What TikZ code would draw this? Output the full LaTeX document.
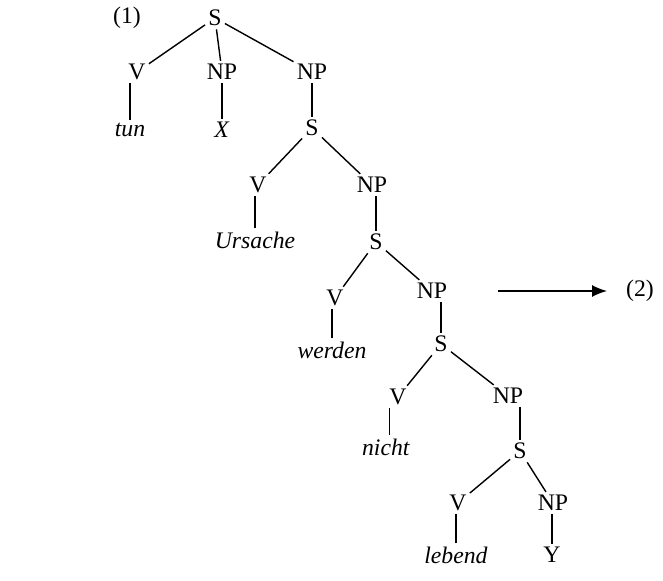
\documentclass[tikz,border=0pt]{standalone}
\usepackage{fontspec}
\setmainfont{Liberation Serif}
\usepackage{tikz}
\usetikzlibrary{arrows.meta}

\begin{document}
\begin{tikzpicture}[x=0.02cm,y=-0.02cm,line width=0.8pt,
  every node/.style={font=\fontsize{13.5}{16}\selectfont,inner sep=1.5pt}]
\useasboundingbox (0,0) rectangle (663,581);

\draw(127,18) node (one) {(1)};
\draw(215,18) node (s0) {S};
\draw(137,72) node (v1) {V};
\draw(222,72) node (np1) {NP};
\draw(312,72) node (np2) {NP};
\draw(130,130) node (tun) {\textit{tun}};
\draw(222,130) node (x) {\textit{X}};
\draw(312,128) node (s1) {S};
\draw(258,185) node (v2) {V};
\draw(372,185) node (np3) {NP};
\draw(255,240) node (urs) {\textit{Ursache}};
\draw(376,242) node (s2) {S};
\draw(335,298) node (v3) {V};
\draw(432,291) node (np4) {NP};
\draw(332,350) node (wer) {\textit{werden}};
\draw(441,344) node (s3) {S};
\draw(398,397) node (v4) {V};
\draw(508,396) node (np5) {NP};
\draw(386,447) node (nic) {\textit{nicht}};
\draw(520,451) node (s4) {S};
\draw(458,503) node (v5) {V};
\draw(553,503) node (np6) {NP};
\draw(456,555) node (leb) {\textit{lebend}};
\draw(552,555) node (y) {Y};
\draw(640,291) node (two) {(2)};
\coordinate (a0) at (498,291);
\coordinate (a1) at (607,291);

% branching
\draw (s0) -- (v1);
\draw (s0) -- (np1);
\draw (s0) -- (np2);
\draw (s1) -- (v2);
\draw (s1) -- (np3);
\draw (s2) -- (v3);
\draw (s2) -- (np4);
\draw (s3) -- (v4);
\draw (s3) -- (np5);
\draw (s4) -- (v5);
\draw (s4) -- (np6);
% unary links
\draw (tun.north) -- (tun.north |- v1.south);
\draw (x.north) -- (x.north |- np1.south);
\draw (s1.north) -- (s1.north |- np2.south);
\draw (urs.north) -- (urs.north |- v2.south);
\draw (s2.north) -- (s2.north |- np3.south);
\draw (wer.north) -- (wer.north |- v3.south);
\draw (s3.north) -- (s3.north |- np4.south);
\draw ([xshift=-5]v4.south) -- ([xshift=-5]v4.south |- nic.north);
\draw (s4.north) -- (s4.north |- np5.south);
\draw (leb.north) -- (leb.north |- v5.south);
\draw (y.north) -- (y.north |- np6.south);
\draw[-{Latex[length=3mm,width=2.4mm]}] (a0) -- (a1);

\end{tikzpicture}
\end{document}
